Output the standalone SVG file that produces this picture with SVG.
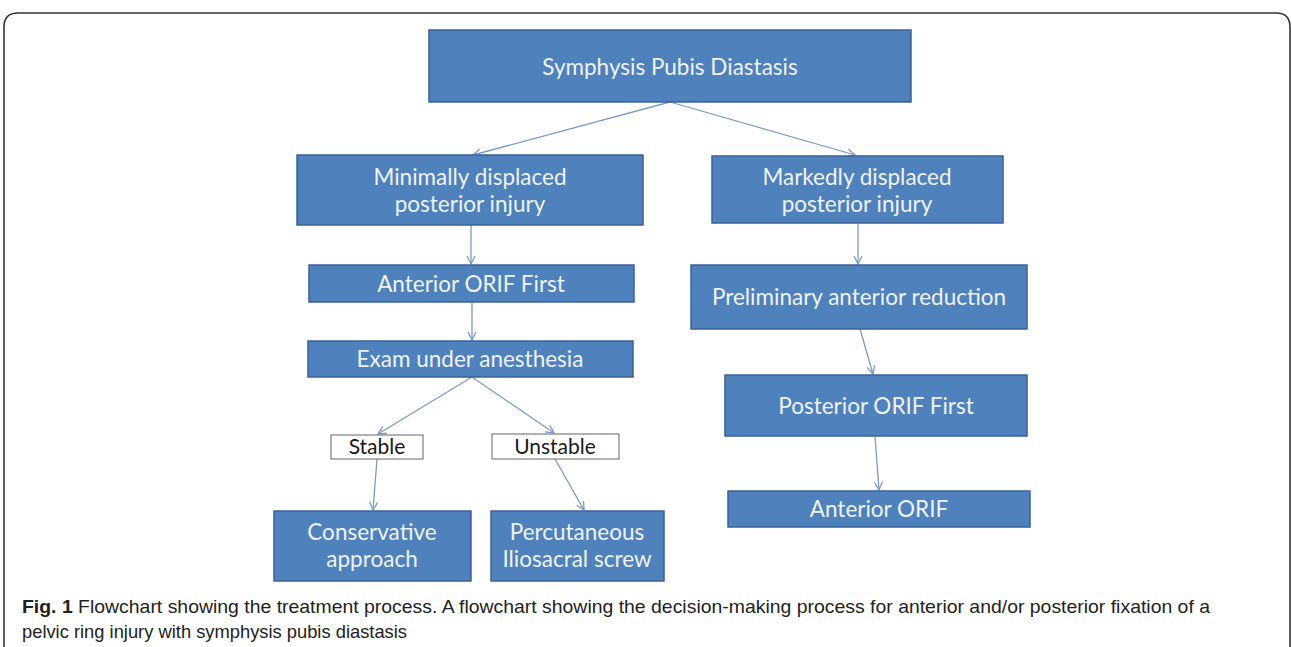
<svg xmlns="http://www.w3.org/2000/svg" width="1292" height="647" viewBox="0 0 1292 647">
<defs>
<marker id="ah" viewBox="0 0 10 10" refX="9" refY="5" markerWidth="10" markerHeight="10" markerUnits="userSpaceOnUse" orient="auto">
<path d="M1,1 L9,5 L1,9" fill="none" stroke="#7A9CC8" stroke-width="1.3"/>
</marker>
<style>
.box{fill:#4F81BD;stroke:#3A6399;stroke-width:1.5}
.wbox{fill:#FFFFFF;stroke:#7F7F7F;stroke-width:1.2}
.t{font-family:Lato,"Open Sans",sans-serif;font-size:22.5px;fill:#EEF3FA;text-anchor:middle}
.tb{font-family:Lato,"Open Sans",sans-serif;font-size:21px;fill:#1A1A1A;text-anchor:middle}
.c{stroke:#7A9CC8;stroke-width:1.3;fill:none;marker-end:url(#ah)}
.cap{font-family:"Liberation Sans","Noto Sans",sans-serif;font-size:19px;fill:#222222}
</style>
</defs>
<rect width="1292" height="647" fill="#FFFFFF"/>
<path d="M4,647 V27 Q4,13 18,13 H1276 Q1290,13 1290,27 V647" fill="none" stroke="#333333" stroke-width="1.6"/>

<g id="connectors">
<line class="c" x1="670" y1="102" x2="473" y2="155"/>
<line class="c" x1="670" y1="102" x2="855" y2="155"/>
<line class="c" x1="471" y1="225" x2="471" y2="264"/>
<line class="c" x1="472" y1="302" x2="472" y2="340"/>
<line class="c" x1="472" y1="377" x2="378" y2="434"/>
<line class="c" x1="472" y1="377" x2="554" y2="433"/>
<line class="c" x1="377" y1="459" x2="373" y2="510"/>
<line class="c" x1="555" y1="459" x2="584" y2="510"/>
<line class="c" x1="858" y1="224" x2="858" y2="264"/>
<line class="c" x1="860" y1="329" x2="873" y2="374"/>
<line class="c" x1="875" y1="436" x2="879" y2="490"/>
</g>

<g id="n-top"><rect class="box" x="429" y="30" width="482" height="72"/><text class="t" x="670" y="75">Symphysis Pubis Diastasis</text></g>
<g id="n-minimal"><rect class="box" x="297" y="155" width="346" height="70"/><text class="t" x="470" y="185">Minimally displaced</text><text class="t" x="470" y="212">posterior injury</text></g>
<g id="n-marked"><rect class="box" x="712" y="156" width="291" height="67"/><text class="t" x="857" y="185">Markedly displaced</text><text class="t" x="857" y="212">posterior injury</text></g>
<g id="n-antfirst"><rect class="box" x="309" y="265" width="325" height="37"/><text class="t" x="471" y="292">Anterior ORIF First</text></g>
<g id="n-exam"><rect class="box" x="308" y="341" width="325" height="36"/><text class="t" x="470" y="367">Exam under anesthesia</text></g>
<g id="n-stable"><rect class="wbox" x="331" y="435" width="92" height="24"/><text class="tb" x="377" y="454">Stable</text></g>
<g id="n-unstable"><rect class="wbox" x="492" y="434" width="127" height="25"/><text class="tb" x="555" y="454">Unstable</text></g>
<g id="n-conservative"><rect class="box" x="274" y="511" width="197" height="70"/><text class="t" x="372" y="540">Conservative</text><text class="t" x="372" y="567">approach</text></g>
<g id="n-percutaneous"><rect class="box" x="491" y="511" width="173" height="70"/><text class="t" x="577" y="540">Percutaneous</text><text class="t" x="577" y="567">Iliosacral screw</text></g>
<g id="n-prelim"><rect class="box" x="691" y="265" width="336" height="64"/><text class="t" x="859" y="305">Preliminary anterior reduction</text></g>
<g id="n-postfirst"><rect class="box" x="725" y="375" width="302" height="61"/><text class="t" x="876" y="414">Posterior ORIF First</text></g>
<g id="n-antorif"><rect class="box" x="728" y="491" width="302" height="36"/><text class="t" x="879" y="517">Anterior ORIF</text></g>

<g id="caption">
<text class="cap" x="22" y="613" textLength="1188" lengthAdjust="spacingAndGlyphs"><tspan font-weight="bold">Fig. 1</tspan> Flowchart showing the treatment process. A flowchart showing the decision-making process for anterior and/or posterior fixation of a</text>
<text class="cap" x="22" y="638" textLength="385" lengthAdjust="spacingAndGlyphs">pelvic ring injury with symphysis pubis diastasis</text>
</g>
</svg>
